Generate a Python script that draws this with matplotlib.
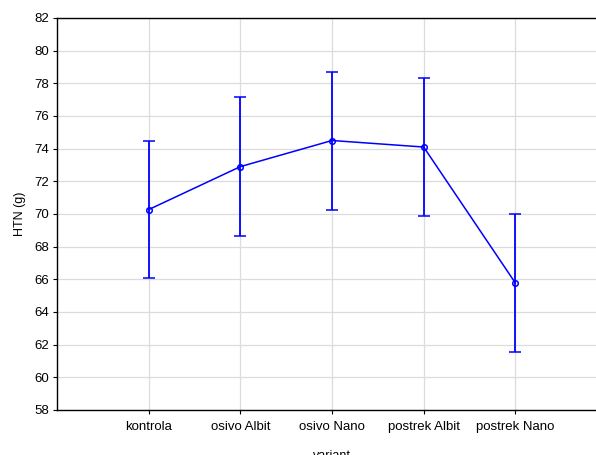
import matplotlib
matplotlib.use("Agg")
import matplotlib.pyplot as plt

plt.rcParams['font.family'] = ['Liberation Sans', 'DejaVu Sans']

categories = ["kontrola", "osivo Albit", "osivo Nano", "postrek Albit", "postrek Nano"]
means = [70.27, 72.9, 74.5, 74.1, 65.78]
upper = [74.5, 77.15, 78.7, 78.3, 70.02]
lower = [66.07, 68.68, 70.27, 69.85, 61.55]
yticks = list(range(58, 83, 2))

fig = plt.figure(figsize=(5.96, 4.55), dpi=100)
ax = fig.add_axes([57/596, 45/455, 550/596, 392/455])

x = list(range(1, len(categories) + 1))
yerr = [[m - l for m, l in zip(means, lower)], [u - m for m, u in zip(means, upper)]]
ax.errorbar(x, means, yerr=yerr, color='#0000ff', lw=1.1, elinewidth=1.3,
            capsize=4.3, capthick=1.3, marker='o', markersize=4,
            markerfacecolor='none', markeredgecolor='#0000ff', markeredgewidth=1.1, zorder=3)

ax.set_xlim(0, 6)
ax.set_ylim(58, 82)
ax.set_yticks(yticks)
ax.set_xticks(x)
ax.set_xticklabels(categories)
ax.grid(True, color='#dcdcdc', lw=0.9)
ax.set_axisbelow(True)
for s in ['top', 'bottom', 'left']:
    ax.spines[s].set_color('black')
    ax.spines[s].set_linewidth(1.0)
ax.spines['right'].set_visible(False)
ax.tick_params(axis='both', labelsize=9.5, length=3, width=0.8, direction='out', colors='black')
ax.tick_params(axis='x', pad=5)
ax.tick_params(axis='y', pad=3)
ax.set_xlabel("variant", fontsize=9, labelpad=12)
ax.set_ylabel("HTN (g)", fontsize=9, labelpad=6)

fig.savefig("out.png", dpi=100)
